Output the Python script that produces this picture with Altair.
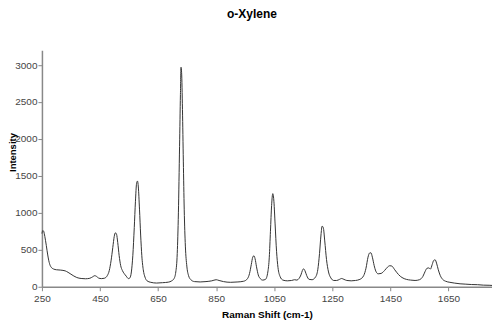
import altair as alt
import pandas as pd

shift = [250, 253, 256, 260, 265, 270, 275, 280, 290, 300, 315, 330, 340, 350, 360, 370, 385, 400, 415, 425,
         432, 438, 445, 455, 465, 475, 482, 488, 494, 499, 503, 507, 511, 516, 521, 527, 533, 540, 548, 553,
         558, 563, 568, 572, 576, 579, 582, 586, 590, 594, 599, 605, 612, 625, 645, 665, 685, 697, 705, 711,
         716, 720, 724, 727, 729, 731, 734, 737, 740, 744, 749, 755, 763, 775, 795, 815, 835, 850, 860, 875,
         900, 925, 945, 958, 965, 971, 976, 980, 984, 989, 995, 1002, 1010, 1020, 1028, 1033, 1037, 1041, 1045, 1049,
         1053, 1058, 1063, 1070, 1080, 1095, 1110, 1120, 1128, 1135, 1142, 1147, 1151, 1156, 1162, 1170, 1180, 1192, 1200, 1206,
         1211, 1215, 1219, 1224, 1230, 1237, 1245, 1255, 1265, 1275, 1282, 1290, 1300, 1315, 1330, 1345, 1358, 1366, 1373, 1378,
         1383, 1388, 1394, 1400, 1408, 1418, 1430, 1440, 1448, 1455, 1465, 1478, 1490, 1505, 1520, 1535, 1550, 1562, 1570, 1576,
         1582, 1588, 1594, 1599, 1604, 1609, 1615, 1622, 1630, 1640, 1655, 1670, 1690, 1710, 1730, 1750, 1770, 1790, 1800]

intensity = [720, 760, 750, 680, 560, 430, 330, 275, 240, 230, 225, 215, 195, 170, 145, 125, 112, 108, 115, 135,
             150, 140, 118, 110, 115, 150, 220, 350, 530, 680, 730, 710, 600, 420, 290, 220, 180, 145, 110, 120,
             200, 420, 800, 1150, 1400, 1430, 1350, 1050, 700, 420, 230, 130, 80, 60, 50, 55, 62, 80, 110, 200,
             450, 1000, 1900, 2600, 2970, 2900, 2400, 1700, 1050, 550, 280, 150, 95, 70, 65, 70, 80, 95, 85, 70,
             60, 65, 75, 110, 180, 300, 400, 420, 380, 270, 160, 110, 90, 100, 200, 400, 750, 1100, 1260, 1150,
             850, 480, 260, 140, 90, 80, 85, 95, 90, 110, 160, 220, 243, 215, 150, 100, 95, 130, 230, 450,
             700, 820, 800, 620, 370, 200, 120, 85, 85, 100, 112, 100, 85, 80, 85, 100, 150, 250, 400, 455,
             460, 400, 290, 210, 175, 180, 220, 265, 285, 280, 230, 165, 125, 100, 90, 85, 95, 140, 210, 250,
             255, 240, 300, 355, 365, 320, 230, 150, 100, 75, 60, 50, 40, 35, 30, 28, 22, 20, 18]

x_ticks = [250, 450, 650, 850, 1050, 1250, 1450, 1650]
y_ticks = [0, 500, 1000, 1500, 2000, 2500, 3000]

df = pd.DataFrame({"shift": shift, "intensity": intensity})

font = "Liberation Sans"

chart = alt.Chart(df).mark_line(color="#333333", strokeWidth=1, interpolate="monotone").encode(
    x=alt.X("shift:Q", title="Raman Shift (cm-1)",
            scale=alt.Scale(domain=[250, 1800], nice=False, zero=False),
            axis=alt.Axis(values=x_ticks, format="d", grid=False, labelFlush=False, labelPadding=3,
                          titlePadding=6, tickSize=4)),
    y=alt.Y("intensity:Q", title="Intensity",
            scale=alt.Scale(domain=[0, 3200], nice=False),
            axis=alt.Axis(values=y_ticks, format="d", grid=False, labelPadding=1,
                          tickSize=4, titleX=-24, titleY=102, titleFontSize=9.5)),
).properties(
    width=451, height=237,
    title=alt.TitleParams("o-Xylene", font=font, fontSize=12, fontWeight="bold",
                          color="#000000", offset=29, dx=-15),
    autosize=alt.AutoSizeParams(type="none"),
    padding={"left": 34, "top": 42, "right": 0, "bottom": 40},
).configure_view(stroke=None).configure_axis(
    labelFont=font, titleFont=font, labelFontSize=10, titleFontSize=10,
    labelColor="#444444", titleColor="#000000", titleFontWeight="bold",
    domainColor="#888888", tickColor="#888888", domainWidth=1.5,
)

chart.save("out.html", embed_options={"renderer": "svg", "actions": False})
